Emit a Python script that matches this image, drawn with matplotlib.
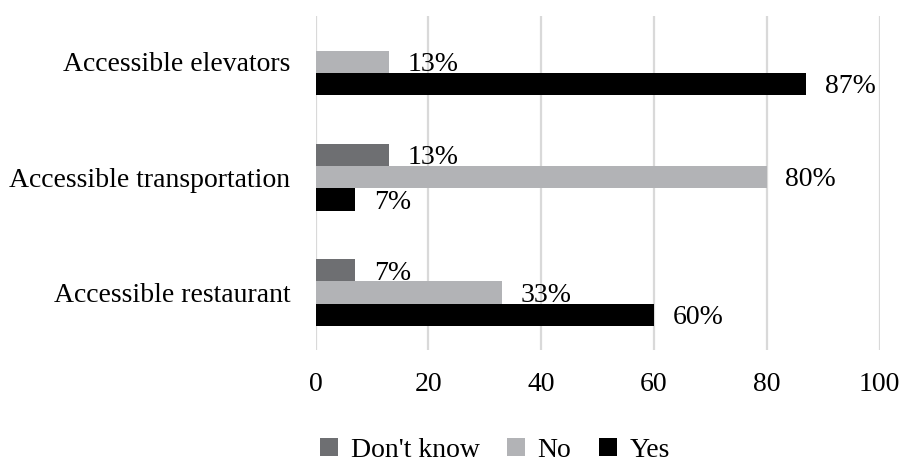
import matplotlib.pyplot as plt
import numpy as np

plt.rcParams['font.family'] = ['Liberation Serif', 'DejaVu Serif']

categories = ["Accessible restaurant", "Accessible transportation", "Accessible elevators"]
series = ["Don't know", "No", "Yes"]
dont_know = [7, 13, 0]
no = [33, 80, 13]
yes = [60, 7, 87]
colors = ['#6e6f72', '#b2b3b6', '#000000']

fs = 20

fig = plt.figure(figsize=(9.03, 4.62), dpi=100)
ax = fig.add_axes([0.3494, 0.2424, 0.6246, 0.723])

y = np.arange(len(categories))
h = 0.193
offsets = [h, 0, -h]

for vals, off, col, name in zip([dont_know, no, yes], offsets, colors, series):
    bars = ax.barh(y + off, vals, height=h, color=col, label=name, zorder=3)
    for b, v in zip(bars, vals):
        if v == 0:
            continue
        # labels sit under the bars so the next bar clips them slightly
        ax.annotate(f"{v}%", (v, b.get_y() + h / 2), xytext=(13.5, -2),
                    textcoords='offset points', ha='left', va='center',
                    fontsize=fs, zorder=2)

ax.set_xlim(0, 100)
ax.set_ylim(-0.498, 2.396)
ax.set_xticks(range(0, 101, 20))
ax.set_yticks(y)
ax.set_yticklabels(categories)
ax.tick_params(axis='both', length=0, labelsize=fs)
ax.tick_params(axis='y', pad=18)
ax.tick_params(axis='x', pad=16)
ax.grid(axis='x', color='#d9d9d9', linewidth=1.6, zorder=0)
ax.set_axisbelow(True)
for s in ax.spines.values():
    s.set_visible(False)

fig.legend(loc='center', bbox_to_anchor=(495 / 903, 1 - 450.5 / 462), ncol=3,
           frameon=False, fontsize=fs, handlelength=0.64, handleheight=0.64,
           handletextpad=0.45, columnspacing=1.0, borderaxespad=0, borderpad=0)

fig.savefig('out.png', dpi=100)
